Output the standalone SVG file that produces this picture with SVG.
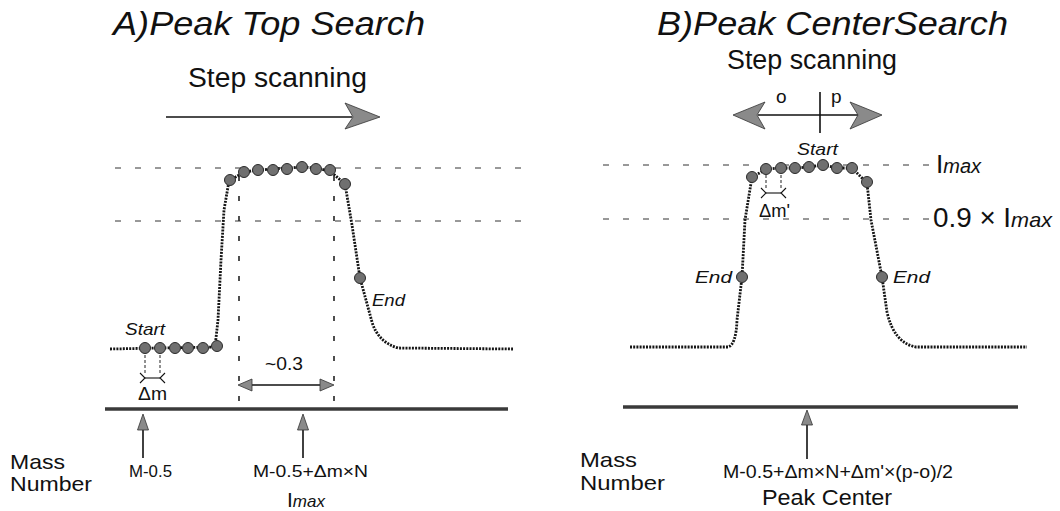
<svg xmlns="http://www.w3.org/2000/svg" width="1060" height="511" viewBox="0 0 1060 511">
<style>
text{font-family:"Liberation Sans",Arial,Helvetica,sans-serif;fill:#111}
.it{font-style:italic}
.curve{fill:none;stroke:#151515;stroke-width:2.8;stroke-dasharray:2 1.2}
.hd{stroke:#333;stroke-width:1;stroke-dasharray:6 14;fill:none}
.vd{stroke:#222;stroke-width:1.6;stroke-dasharray:5 15;fill:none}
.sd{stroke:#222;stroke-width:1;stroke-dasharray:3 2;fill:none}
.dot{fill:#707070;stroke:#2a2a2a;stroke-width:1}
.ah{fill:#8a8a8a;stroke:#333;stroke-width:0.8}
.ln{stroke:#111;stroke-width:1.6;fill:none}
.thin{stroke:#111;stroke-width:1.1;fill:none}
.axis{stroke:#3a3a3a;stroke-width:3.5}
</style>
<rect width="1060" height="511" fill="#fff"/>

<g id="panelA">
  <text id="titleA" x="113" y="35" font-size="34" class="it" textLength="312" lengthAdjust="spacingAndGlyphs">A)Peak Top Search</text>
  <text id="stepA" x="188" y="87" font-size="27" textLength="179" lengthAdjust="spacingAndGlyphs">Step scanning</text>
</g>

<g id="panelB">
  <text id="titleB" x="657" y="35" font-size="34" class="it" textLength="351" lengthAdjust="spacingAndGlyphs">B)Peak CenterSearch</text>
  <text id="stepB" x="727" y="69" font-size="27" textLength="170" lengthAdjust="spacingAndGlyphs">Step scanning</text>
  <text x="776" y="103" font-size="19">o</text>
  <text x="831" y="103" font-size="19">p</text>
</g>

<g id="connectors">
  <line class="ln" x1="166" y1="117" x2="352" y2="117"/>
  <polygon class="ah" points="380,117 345,103 353,117 345,129"/>
  <line class="ln" x1="758" y1="115" x2="858" y2="115"/>
  <polygon class="ah" points="733,115 765,102 757,115 765,129"/>
  <polygon class="ah" points="882,115 850,102 858,115 850,129"/>
  <line class="ln" x1="820" y1="92" x2="820" y2="133"/>

  <line class="hd" x1="115" y1="168" x2="525" y2="168"/>
  <line class="hd" x1="115" y1="221" x2="525" y2="221"/>
  <line class="hd" x1="603" y1="165" x2="932" y2="165"/>
  <line class="hd" x1="603" y1="219" x2="932" y2="219"/>

  <line class="vd" x1="239" y1="176" x2="239" y2="408"/>
  <line class="vd" x1="334" y1="176" x2="334" y2="408"/>

  <line class="ln" x1="248" y1="385" x2="324" y2="385"/>
  <polygon class="ah" points="238,385 252,379 252,391"/>
  <polygon class="ah" points="334,385 320,379 320,391"/>

  <line class="sd" x1="145" y1="355" x2="145" y2="374"/>
  <line class="sd" x1="160" y1="355" x2="160" y2="374"/>
  <line class="thin" x1="145" y1="378" x2="160" y2="378"/>
  <polyline class="thin" points="140,373 145,378 140,383"/>
  <polyline class="thin" points="165,373 160,378 165,383"/>

  <line class="sd" x1="766" y1="175" x2="766" y2="189"/>
  <line class="sd" x1="781" y1="175" x2="781" y2="189"/>
  <line class="thin" x1="766" y1="193" x2="781" y2="193"/>
  <polyline class="thin" points="761,188 766,193 761,198"/>
  <polyline class="thin" points="786,188 781,193 786,198"/>

  <line class="axis" x1="105" y1="409" x2="508" y2="409"/>
  <line class="axis" x1="623" y1="407" x2="1018" y2="407"/>

  <line class="ln" x1="143" y1="428" x2="143" y2="458"/>
  <polygon class="ah" points="143,414 137.5,430 148.5,430"/>
  <line class="ln" x1="303" y1="428" x2="303" y2="458"/>
  <polygon class="ah" points="303,414 297.5,430 308.5,430"/>
  <line class="ln" x1="807" y1="422" x2="807" y2="459"/>
  <polygon class="ah" points="807,410 801.5,425 812.5,425"/>
</g>

<g id="peakA">
  <path class="curve" d="M110,349 L215,347 L218,320 L221,260 L224,210 L229,181 L244,172 L258,170 L273,169 L287,168 L302,167 L316,168 L330,171 L345,184 L352,225 L360,278 L366,300 L372,322 Q378,342 398,348 L513,349"/>
  <circle class="dot" cx="145" cy="348" r="5.5"/>
  <circle class="dot" cx="160" cy="348" r="5.5"/>
  <circle class="dot" cx="175" cy="348" r="5.5"/>
  <circle class="dot" cx="188" cy="348" r="5.5"/>
  <circle class="dot" cx="203" cy="348" r="5.5"/>
  <circle class="dot" cx="217" cy="346" r="5.5"/>
  <circle class="dot" cx="230" cy="180" r="5.5"/>
  <circle class="dot" cx="244" cy="172" r="5.5"/>
  <circle class="dot" cx="258" cy="170" r="5.5"/>
  <circle class="dot" cx="273" cy="170" r="5.5"/>
  <circle class="dot" cx="287" cy="169" r="5.5"/>
  <circle class="dot" cx="302" cy="167" r="5.5"/>
  <circle class="dot" cx="316" cy="169" r="5.5"/>
  <circle class="dot" cx="330" cy="170" r="5.5"/>
  <circle class="dot" cx="345" cy="184" r="5.5"/>
  <circle class="dot" cx="360" cy="278" r="5.5"/>
  <text x="125" y="335" font-size="17" class="it" textLength="40" lengthAdjust="spacingAndGlyphs">Start</text>
  <text x="372" y="306" font-size="17" class="it" textLength="33" lengthAdjust="spacingAndGlyphs">End</text>
  <text x="138" y="400" font-size="19" textLength="29" lengthAdjust="spacingAndGlyphs">Δm</text>
  <text x="265" y="370" font-size="18" textLength="38" lengthAdjust="spacingAndGlyphs">~0.3</text>
</g>

<g id="peakB">
  <path class="curve" d="M630,347 L728,347 Q736,345 737,320 L742,277 L745,220 L752,177 L767,169 L780,168 L795,168 L809,167 L823,165 L837,168 L852,168 L867,183 L871,220 L882,277 L887,312 Q894,343 916,347 L1027,347"/>
  <circle class="dot" cx="752" cy="177" r="5.5"/>
  <circle class="dot" cx="766" cy="169" r="5.5"/>
  <circle class="dot" cx="781" cy="168" r="5.5"/>
  <circle class="dot" cx="795" cy="168" r="5.5"/>
  <circle class="dot" cx="809" cy="167" r="5.5"/>
  <circle class="dot" cx="823" cy="165" r="5.5"/>
  <circle class="dot" cx="837" cy="168" r="5.5"/>
  <circle class="dot" cx="852" cy="168" r="5.5"/>
  <circle class="dot" cx="867" cy="182" r="5.5"/>
  <circle class="dot" cx="742" cy="277" r="5.5"/>
  <circle class="dot" cx="882" cy="277" r="5.5"/>
  <text x="797" y="155" font-size="17" class="it" textLength="41" lengthAdjust="spacingAndGlyphs">Start</text>
  <text x="695" y="283" font-size="17" class="it" textLength="37" lengthAdjust="spacingAndGlyphs">End</text>
  <text x="893" y="283" font-size="17" class="it" textLength="37" lengthAdjust="spacingAndGlyphs">End</text>
  <text x="759" y="217" font-size="19" textLength="31" lengthAdjust="spacingAndGlyphs">Δm'</text>
  <text x="936" y="173" font-size="26">I<tspan class="it" font-size="20">max</tspan></text>
  <text x="933" y="227" font-size="27" textLength="119" lengthAdjust="spacingAndGlyphs">0.9 × I<tspan class="it" font-size="21">max</tspan></text>
</g>

<g id="labelsA">
  <text x="10" y="469" font-size="21" textLength="55" lengthAdjust="spacingAndGlyphs">Mass</text>
  <text x="10" y="491" font-size="21" textLength="82" lengthAdjust="spacingAndGlyphs">Number</text>
  <text x="129" y="477" font-size="17" textLength="43" lengthAdjust="spacingAndGlyphs">M-0.5</text>
  <text x="253" y="477" font-size="17" textLength="115" lengthAdjust="spacingAndGlyphs">M-0.5+Δm×N</text>
  <text x="287" y="507" font-size="21">I<tspan class="it" font-size="17">max</tspan></text>
</g>

<g id="labelsB">
  <text x="580" y="467" font-size="21" textLength="57" lengthAdjust="spacingAndGlyphs">Mass</text>
  <text x="580" y="490" font-size="21" textLength="85" lengthAdjust="spacingAndGlyphs">Number</text>
  <text x="723" y="478" font-size="18" textLength="230" lengthAdjust="spacingAndGlyphs">M-0.5+Δm×N+Δm'×(p-o)/2</text>
  <text x="762" y="505" font-size="22" textLength="130" lengthAdjust="spacingAndGlyphs">Peak Center</text>
</g>
</svg>
